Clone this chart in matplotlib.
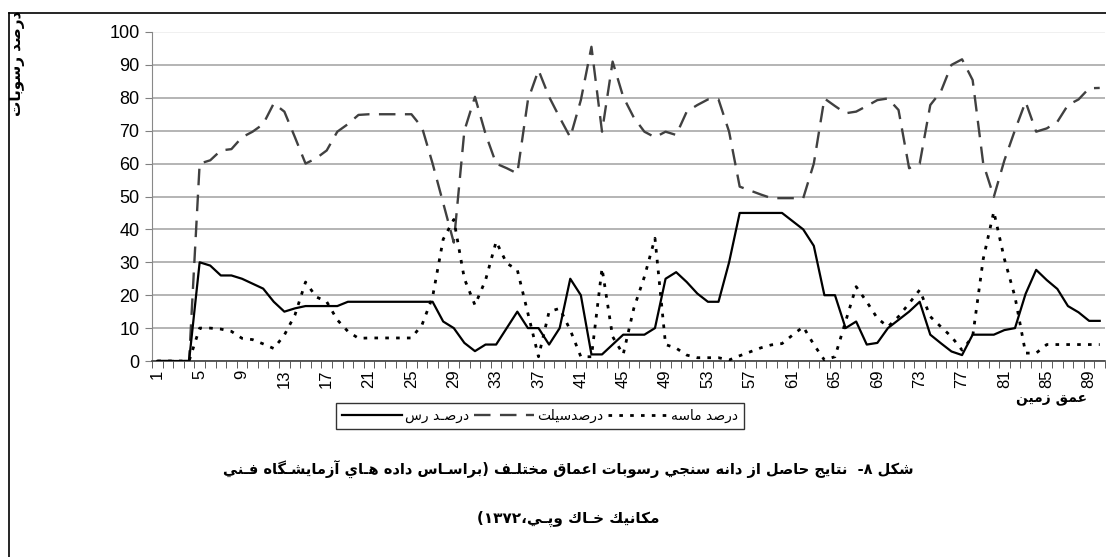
import numpy as np
import matplotlib
matplotlib.use('Agg')
import matplotlib.pyplot as plt
from matplotlib.lines import Line2D

# depth index 1..90
depth = np.arange(1, 91)

# clay % (solid)
clay = [0, 0, 0, 0, 30, 29, 26, 26, 25, 23.5,
        22, 18, 15, 16, 16.7, 16.7, 16.7, 16.7, 18, 18,
        18, 18, 18, 18, 18, 18, 18, 12, 10, 5.5,
        3, 5, 5, 10, 15, 10, 10, 5, 10, 25,
        20, 2, 2, 5, 8, 8, 8, 10, 25, 27,
        24, 20.5, 18, 18, 30, 45, 45, 45, 45, 45,
        42.5, 40, 35, 20, 20, 10, 12, 5, 5.5, 10,
        12.5, 15, 18, 8, 5.4, 2.9, 1.8, 8, 8, 8,
        9.4, 10, 20.4, 27.7, 24.6, 21.9, 16.7, 14.8, 12.2, 12.2]

# silt % (dashed)
silt = [0, 0, 0, 0, 60, 61, 64, 64.4, 68, 69.7,
        72, 78.3, 75.8, 68, 60, 61.6, 64, 69.7, 72, 74.8,
        75, 75, 75, 75, 75, 71, 60, 48, 36, 70,
        80.3, 69, 60, 58.6, 57, 79.3, 88.4, 80.3, 74, 68,
        79.3, 95.5, 69.7, 91, 80.3, 74, 69.7, 68, 69.7, 68.7,
        75.8, 77.8, 79.5, 79.5, 69.7, 53, 51.8, 50.6, 49.5, 49.5,
        49.5, 49.5, 60, 79.8, 77.5, 75.3, 75.8, 77.5, 79.3, 79.8,
        76.3, 58.6, 60, 77.8, 81.9, 90, 91.7, 85.4, 60, 49.9,
        61, 70.2, 78.8, 69.7, 70.7, 72.7, 77.8, 79.5, 82.9, 83]

# sand % (dotted)
sand = [0, 0, 0, 0, 10, 10, 9.7, 9, 6.9, 6.5,
        5.2, 3.8, 7.9, 14, 24, 19.5, 18, 12.5, 9, 6.9,
        7, 7, 7, 7, 7, 11, 19.5, 37, 43, 25,
        17, 24.6, 36.3, 29.7, 27.7, 14.5, 1.3, 15, 16, 9.4,
        1.3, 1.3, 28.2, 7.4, 2, 16, 25.6, 37.3, 5, 3.9,
        1.8, 1, 1, 1, 0.3, 1.6, 2.8, 4, 4.9, 5.3,
        7.9, 10.4, 5, 0.3, 1.3, 12, 22.6, 18, 13, 10.4,
        13.5, 17.5, 21.6, 13.5, 10.4, 7.4, 3.3, 7.4, 31, 45.4,
        31, 19.5, 2.4, 2.4, 5, 5, 5, 5, 5, 5]

xtick_pos = list(range(1, 91, 4))
yticks = list(range(0, 101, 10))

label_clay = 'درصـد رس'
label_silt = 'درصدسيلت'
label_sand = 'درصد ماسه'
ylabel = 'درصد رسوبات'
xlabel = 'عمق زمين'
caption1 = 'شكل ۸-  نتايج حاصل از دانه سنجي رسوبات اعماق مختلـف (براسـاس داده هـاي آزمايشـگاه فـني'
caption2 = 'مكانيك خـاك وپـي،۱۳۷۲)'

# simple arabic shaping + visual reordering (matplotlib draws left to right only)
DUAL = {'ب': 0xFE8F, 'ت': 0xFE95, 'ث': 0xFE99, 'ج': 0xFE9D, 'ح': 0xFEA1, 'خ': 0xFEA5,
        'س': 0xFEB1, 'ش': 0xFEB5, 'ص': 0xFEB9, 'ض': 0xFEBD, 'ط': 0xFEC1, 'ظ': 0xFEC5,
        'ع': 0xFEC9, 'غ': 0xFECD, 'ف': 0xFED1, 'ق': 0xFED5, 'ك': 0xFED9, 'ل': 0xFEDD,
        'م': 0xFEE1, 'ن': 0xFEE5, 'ه': 0xFEE9, 'ي': 0xFEF1, 'پ': 0xFB56, 'گ': 0xFB92,
        'ی': 0xFBFC, 'ک': 0xFB8E}
RIGHT = {'ا': 0xFE8D, 'آ': 0xFE81, 'د': 0xFEA9, 'ذ': 0xFEAB, 'ر': 0xFEAD, 'ز': 0xFEAF,
         'و': 0xFEED, 'ة': 0xFE93, 'ژ': 0xFB8A}
TATWEEL = 'ـ'


def rtl(s):
    out = []
    for k, c in enumerate(s):
        p = s[k - 1] if k > 0 else ''
        n = s[k + 1] if k + 1 < len(s) else ''
        jp = p in DUAL or p == TATWEEL
        jn = n in DUAL or n in RIGHT or n == TATWEEL
        if c in DUAL:
            b = DUAL[c]
            if jp and jn:
                out.append(chr(b + 3))
            elif jp:
                out.append(chr(b + 1))
            elif jn:
                out.append(chr(b + 2))
            else:
                out.append(chr(b))
        elif c in RIGHT:
            out.append(chr(RIGHT[c] + (1 if jp else 0)))
        else:
            out.append(c)
    out = out[::-1]
    out = [{'(': ')', ')': '('}.get(c, c) for c in out]
    res, run = [], []
    for c in out:
        if c.isdigit():
            run.append(c)
        else:
            res.extend(run[::-1])
            run = []
            res.append(c)
    res.extend(run[::-1])
    return ''.join(res)


AR = ['DejaVu Sans']
LAT = ['Liberation Sans', 'DejaVu Sans']

W, H = 1106, 557
fig = plt.figure(figsize=(W / 100, H / 100), dpi=100)
ax = fig.add_axes([152 / W, 1 - 361 / H, (1105 - 152) / W, (361 - 32) / H])

ax.plot(depth, silt, color='#404040', lw=1.7, dashes=(7, 4), label=rtl(label_silt), zorder=3)
ax.plot(depth, sand, color='black', lw=2.0, dashes=(1.3, 2.6), label=rtl(label_sand), zorder=4)
ax.plot(depth, clay, color='black', lw=1.6, label=rtl(label_clay), zorder=5)

ax.set_xlim(0.5, 90.5)
ax.set_ylim(0, 100)
ax.set_yticks(yticks)
ax.set_yticklabels([str(v) for v in yticks], family=LAT, fontsize=13)
ax.set_xticks(xtick_pos)
ax.set_xticklabels([str(v) for v in xtick_pos], rotation=90, family=LAT, fontsize=12)
ax.set_xticks(np.arange(0.5, 91, 1), minor=True)
ax.tick_params(axis='x', which='major', length=0, pad=6)
ax.tick_params(axis='x', which='minor', length=5, direction='out', color='#404040')
ax.tick_params(axis='y', length=5, direction='out', color='#808080', pad=4)
ax.yaxis.grid(True, color='#a8a8a8', lw=1.2)
ax.get_ygridlines()[-1].set_color('#eeeeee')
ax.set_axisbelow(True)
for s in ['top', 'right']:
    ax.spines[s].set_visible(False)
ax.spines['left'].set_color('#888888')
ax.spines['bottom'].set_color('#404040')
ax.spines['bottom'].set_linewidth(1.2)

# legend, right to left: handle then text
h, l = ax.get_legend_handles_labels()
order = [2, 0, 1]
leg = fig.legend([h[i] for i in order], [l[i] for i in order], ncol=3,
                 loc='center', bbox_to_anchor=(540 / W, 1 - 416 / H),
                 prop={'family': AR, 'size': 10}, frameon=True, fancybox=False,
                 edgecolor='black', handlelength=4.3, columnspacing=0.4,
                 handletextpad=0.2, borderpad=0.45)
leg.get_frame().set_linewidth(1.0)

fig.text(18 / W, 1 - 11 / H, rtl(ylabel), rotation=90, ha='center', va='top',
         family=AR, fontweight='bold', fontsize=11)
fig.text(1052 / W, 1 - 398 / H, rtl(xlabel), ha='center', va='center',
         family=AR, fontweight='bold', fontsize=10)
fig.text(568 / W, 1 - 470 / H, rtl(caption1), ha='center', va='center',
         family=AR, fontweight='bold', fontsize=10.5)
fig.text(568 / W, 1 - 519 / H, rtl(caption2), ha='center', va='center',
         family=AR, fontweight='bold', fontsize=11)

# outer frame (left and top edges visible)
fig.add_artist(Line2D([9 / W, 9 / W], [0, 1 - 13 / H], color='black', lw=1.2))
fig.add_artist(Line2D([9 / W, 1], [1 - 13 / H, 1 - 13 / H], color='black', lw=1.2))

fig.savefig('out.png', dpi=100)
